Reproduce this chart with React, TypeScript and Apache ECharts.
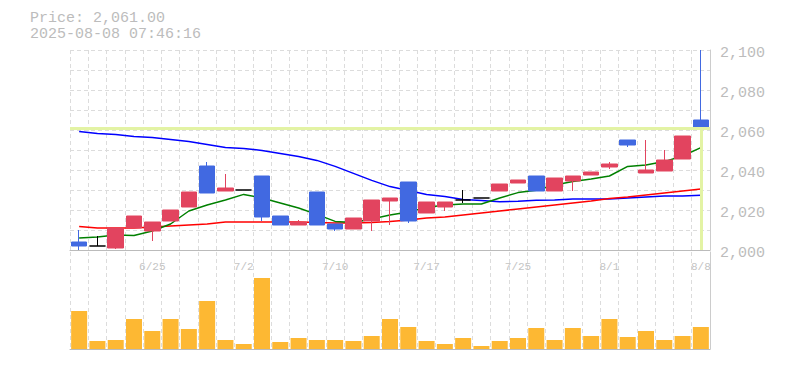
import React, { useEffect, useRef } from 'react';
import * as echarts from 'echarts';

const dates = [
  '6/19', '6/20', '6/23', '6/24', '6/25', '6/26', '6/27', '6/30', '7/1', '7/2',
  '7/3', '7/4', '7/7', '7/8', '7/10', '7/11', '7/14', '7/15', '7/16', '7/17',
  '7/18', '7/22', '7/23', '7/24', '7/25', '7/28', '7/29', '7/30', '7/31', '8/1',
  '8/4', '8/5', '8/6', '8/7', '8/8',
];

// [open, close, low, high]
const ohlc = [
  [2004, 2002, 2000, 2010],
  [2002, 2002, 2002, 2007],
  [2001, 2011, 2000.5, 2011],
  [2011, 2017, 2011, 2017],
  [2009.5, 2014, 2004.5, 2014],
  [2014.5, 2020, 2014.5, 2020],
  [2021.5, 2029, 2021.5, 2029],
  [2042, 2028.5, 2028.5, 2044],
  [2029.5, 2031, 2029.5, 2038],
  [2030, 2030, 2030, 2030],
  [2037, 2016.5, 2014.5, 2037],
  [2017, 2012.5, 2012.5, 2017],
  [2012.5, 2014, 2012.5, 2015],
  [2029, 2012.5, 2012.5, 2029],
  [2013, 2010.5, 2009.5, 2013],
  [2010.5, 2016, 2010.5, 2016],
  [2014.5, 2025, 2009.5, 2025],
  [2024.5, 2026, 2012.5, 2026],
  [2034, 2014.5, 2013.5, 2034],
  [2018.5, 2024, 2018.5, 2024],
  [2021.5, 2024, 2019.5, 2024],
  [2025, 2025, 2023.5, 2030],
  [2026, 2026, 2026, 2026],
  [2029.5, 2033, 2029.5, 2033],
  [2033.5, 2035, 2033.5, 2035],
  [2037, 2029.5, 2029.5, 2037],
  [2029.5, 2036, 2029.5, 2036],
  [2034.5, 2037, 2029.5, 2037],
  [2037.5, 2039, 2037.5, 2039],
  [2041.5, 2043, 2040.5, 2044],
  [2055, 2052.5, 2051.5, 2055],
  [2038.5, 2040, 2038.5, 2055],
  [2039.5, 2045, 2039.5, 2050],
  [2045.5, 2057, 2045.5, 2057],
  [2065, 2061, 2061, 2100],
];

const maShort = [
  2006, 2006.5, 2007.5, 2007.3, 2009.5, 2013, 2019.5, 2022.5, 2025, 2027.8,
  2026, 2023.5, 2021, 2017.8, 2014.3, 2013.8, 2015.5, 2017.5, 2019, 2021.3,
  2022.5, 2023, 2023, 2026, 2028.7, 2029.9, 2032.5, 2034.3, 2035.5, 2037,
  2041.8, 2042.5, 2044.2, 2047, 2051.2,
];

const maMid = [
  2011.8, 2011, 2011, 2011, 2011.5, 2012, 2012.5, 2013, 2014, 2014,
  2014, 2014, 2014, 2013.7, 2013.5, 2013.5, 2013.7, 2014.2, 2015, 2016,
  2016.5, 2017.5, 2018.5, 2019.5, 2020.5, 2021.5, 2022.5, 2023.5, 2024.5, 2025.7,
  2026.5, 2027.5, 2028.5, 2029.5, 2030.5,
];

const maLong = [
  2059.3, 2058.3, 2057.8, 2056.8, 2056.3, 2055.3, 2054.3, 2052.8, 2051.3, 2050.8,
  2049.8, 2048.3, 2046.8, 2044.8, 2041.8, 2038.3, 2034.8, 2031.7, 2029.7, 2027.7,
  2026.7, 2025.2, 2024.7, 2024.1, 2024.4, 2024.9, 2025, 2025.5, 2025.5, 2025.5,
  2026, 2026.5, 2027, 2027, 2027.4,
];

const volumes = [
  380, 80, 90, 300, 180, 300, 200, 480, 90, 50,
  710, 70, 110, 90, 90, 80, 130, 300, 220, 80,
  50, 110, 30, 80, 110, 210, 90, 210, 130, 300,
  120, 180, 90, 130, 220,
];

const lastPrice = 2061;
const titleLines = ['Price: 2,061.00', '2025-08-08 07:46:16'];

const MONO = '"Liberation Mono", "DejaVu Sans Mono", monospace';

function withComma(v: number): string {
  const s = String(Math.round(v));
  return s.replace(/\B(?=(\d{3})+(?!\d))/g, ',');
}

export default function App() {
  const ref = useRef<HTMLDivElement>(null);
  useEffect(() => {
    document.body.style.margin = '0';
    const chart = echarts.init(ref.current!, null, { renderer: 'svg' });
    const split = { show: true, lineStyle: { color: '#dcdcdc', type: [4, 3] as any, width: 1 } };
    chart.setOption({
      animation: false,
      graphic: titleLines.map((t, i) => ({
        type: 'text', x: 30, y: 11 + i * 16,
        style: {
          text: t, font: `15px ${MONO}`, fill: '#bcbcbc',
          verticalAlign: 'top', lineHeight: 15,
        },
      })),
      grid: [
        { left: 70, top: 50, width: 640, height: 200 },
        { left: 70, top: 252, width: 640, height: 97 },
      ],
      xAxis: [
        {
          type: 'category', gridIndex: 0, data: dates, boundaryGap: true,
          axisLine: { show: true, lineStyle: { color: '#bbbbbb' } },
          axisTick: { show: false },
          axisLabel: {
            interval: (i: number) => i % 5 === 4,
            color: '#c4c4c4', fontFamily: MONO, fontSize: 11, margin: 11,
          },
          splitLine: { ...split, interval: 0 },
        },
        {
          type: 'category', gridIndex: 1, data: dates, boundaryGap: true,
          axisLine: { show: true, lineStyle: { color: '#bbbbbb' } },
          axisTick: { show: false },
          axisLabel: { show: false },
          splitLine: { ...split, interval: 0 },
        },
      ],
      yAxis: [
        {
          type: 'value', gridIndex: 0, position: 'right', min: 2000, max: 2100, interval: 10,
          axisLine: { show: true, lineStyle: { color: '#cccccc' } },
          axisTick: { show: false },
          axisLabel: {
            formatter: (v: number) => (Math.round(v) % 20 === 0 ? withComma(v) : ''),
            color: '#bcbcbc', fontFamily: MONO, fontSize: 15, margin: 10,
            verticalAlign: 'top', lineHeight: 7,
          },
          splitLine: split,
        },
        {
          type: 'value', gridIndex: 1, position: 'right', min: 0, max: 970,
          axisLine: { show: true, lineStyle: { color: '#cccccc' } },
          axisTick: { show: false },
          axisLabel: { show: false },
          splitLine: { show: false },
        },
      ],
      series: [
        {
          type: 'line', xAxisIndex: 0, yAxisIndex: 0, data: maLong, symbol: 'none', z: 2,
          lineStyle: { color: '#0000ff', width: 1.5 },
        },
        {
          type: 'line', xAxisIndex: 0, yAxisIndex: 0, data: maMid, symbol: 'none', z: 2,
          lineStyle: { color: '#ff0000', width: 1.5 },
        },
        {
          type: 'line', xAxisIndex: 0, yAxisIndex: 0, data: maShort, symbol: 'none', z: 2,
          lineStyle: { color: '#008000', width: 1.5 },
        },
        {
          type: 'candlestick', xAxisIndex: 0, yAxisIndex: 0, data: ohlc, barWidth: 16, z: 3,
          itemStyle: {
            color: '#e2445f', color0: '#4169e1',
            borderColor: '#e2445f', borderColor0: '#4169e1', borderColorDoji: '#000000',
            borderWidth: 1,
          },
          markLine: {
            silent: true, symbol: ['none', 'none'], label: { show: false },
            lineStyle: { color: '#e3f3a4', width: 3, type: 'solid' },
            data: [
              { yAxis: lastPrice },
              [
                { coord: [dates[dates.length - 1], lastPrice] },
                { coord: [dates[dates.length - 1], 2000] },
              ],
            ],
          },
        },
        {
          type: 'bar', xAxisIndex: 1, yAxisIndex: 1, data: volumes, barWidth: 16,
          itemStyle: { color: '#fdb833' },
        },
      ],
    });
    return () => chart.dispose();
  }, []);
  return <div ref={ref} style={{ width: 785, height: 370 }} />;
}
